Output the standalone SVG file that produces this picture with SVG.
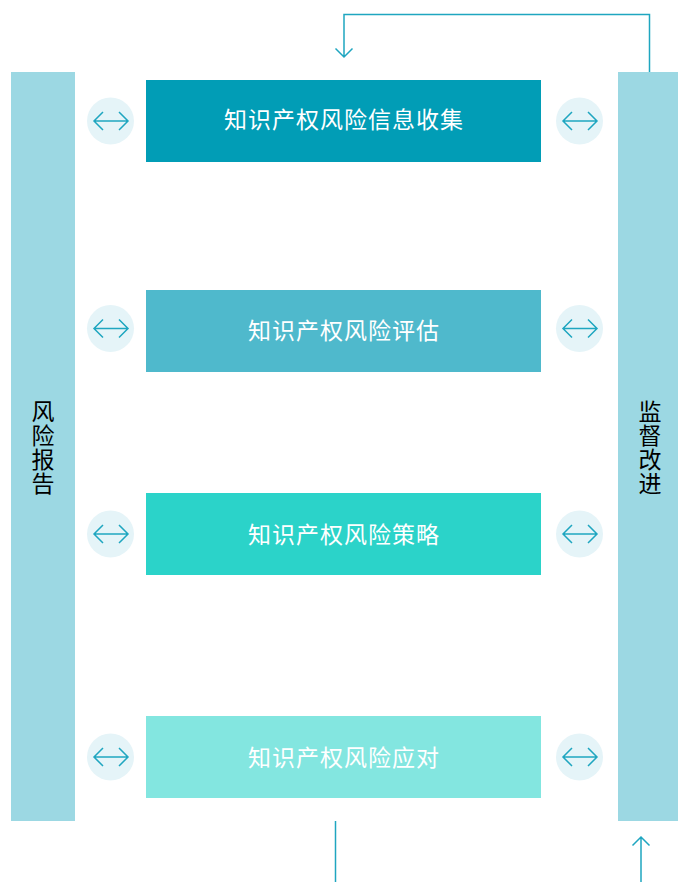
<svg xmlns="http://www.w3.org/2000/svg" width="678" height="882" viewBox="0 0 678 882">
<style>
text{font-family:"Noto Sans CJK SC","Noto Sans",sans-serif;font-size:23px;text-anchor:middle}
.w{fill:#fff;letter-spacing:1px}
.k{fill:#000;writing-mode:vertical-rl;letter-spacing:1px}
.c{fill:#e5f4f8}
.l{fill:none;stroke:#1fa6c0;stroke-width:1.5}
</style>
<defs>
<g id="da"><circle class="c" cx="0" cy="0" r="23.500"/><path class="l" d="M-16.500 0H17.500M-7.500 -9L-16.500 0L-7.500 9M8.500 -9L17.500 0L8.500 9"/></g>
</defs>
<rect width="678" height="882" fill="#fff"/>
<g id="connectors">
<path class="l" d="M649.500 72V14.500H344V57M335.500 48.500L344 57L352.500 48.500"/>
<path class="l" d="M335.500 821V882"/>
<path class="l" d="M641 882V837M632.500 845.500L641 837L649.500 845.500"/>
<use href="#da" x="110.500" y="121"/><use href="#da" x="579.500" y="121"/>
<use href="#da" x="110.500" y="328.500"/><use href="#da" x="579.500" y="328.500"/>
<use href="#da" x="110.500" y="534"/><use href="#da" x="579.500" y="534"/>
<use href="#da" x="110.500" y="757"/><use href="#da" x="579.500" y="757"/>
</g>
<g id="report"><rect x="11" y="72" width="64" height="749" fill="#9cd8e3"/>
<text class="k" x="43" y="447.500">风险报告</text></g>
<g id="supervise"><rect x="618" y="72" width="60" height="749" fill="#9cd8e3"/>
<text class="k" x="650" y="447.500">监督改进</text></g>
<g id="collect"><rect x="146" y="80" width="395" height="82" fill="#019db6"/><text class="w" x="344" y="128">知识产权风险信息收集</text></g>
<g id="assess"><rect x="146" y="290" width="395" height="82" fill="#4fb9cc"/><text class="w" x="344" y="339">知识产权风险评估</text></g>
<g id="strategy"><rect x="146" y="493" width="395" height="82" fill="#2bd3c9"/><text class="w" x="344" y="543">知识产权风险策略</text></g>
<g id="response"><rect x="146" y="716" width="395" height="82" fill="#83e6e0"/><text class="w" x="344" y="766">知识产权风险应对</text></g>
</svg>
